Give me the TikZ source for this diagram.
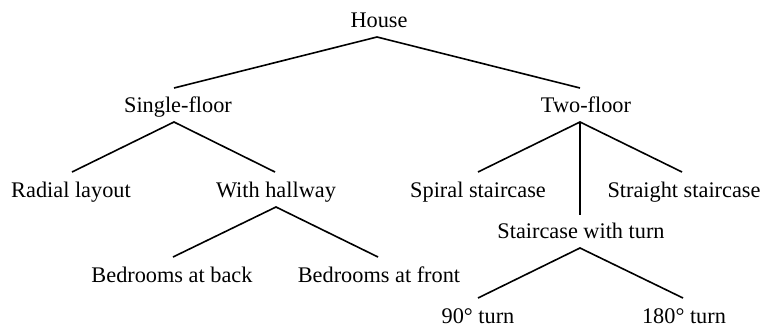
\documentclass[tikz,border=0pt]{standalone}
\usepackage{fontspec}
\setmainfont{Liberation Serif}
\begin{document}
\begin{tikzpicture}[x=1pt,y=-1pt,
  lbl/.style={anchor=base,inner sep=0pt,font=\fontsize{22.3}{26}\selectfont},
  edge/.style={line width=1.6pt,black}]
\useasboundingbox (0,0) rectangle (763,327);
% text nodes
\node[lbl] (house) at (379,27) {House};
\node[lbl] (single) at (178,112) {Single-floor};
\node[lbl] (two) at (586,112) {Two-floor};
\node[lbl] (radial) at (71,197) {Radial layout};
\node[lbl] (hall) at (276,197) {With hallway};
\node[lbl] (spiral) at (478,197) {Spiral staircase};
\node[lbl] (straight) at (684,197) {Straight staircase};
\node[lbl] (turn) at (581,238) {Staircase with turn};
\node[lbl] (back) at (172,282) {Bedrooms at back};
\node[lbl] (front) at (379,282) {Bedrooms at front};
\node[lbl] (t90) at (478,323) {90° turn};
\node[lbl] (t180) at (684,323) {180° turn};
% connector end points
\coordinate (house-b) at (377,37);
\coordinate (single-t) at (174,88);
\coordinate (two-t) at (580,88);
\coordinate (single-b) at (174,122);
\coordinate (radial-t) at (72,172);
\coordinate (hall-t) at (275,172);
\coordinate (two-b) at (580,122);
\coordinate (spiral-t) at (478,172);
\coordinate (straight-t) at (682,172);
\coordinate (turn-t) at (580,215);
\coordinate (hall-b) at (276,207);
\coordinate (back-t) at (173,257);
\coordinate (front-t) at (378,257);
\coordinate (turn-b) at (580,248);
\coordinate (t90-t) at (478,298);
\coordinate (t180-t) at (683,298);
% connectors
\draw[edge] (single-t) -- (house-b) -- (two-t);
\draw[edge] (radial-t) -- (single-b) -- (hall-t);
\draw[edge] (spiral-t) -- (two-b) -- (straight-t);
\draw[edge] (two-b) -- (turn-t);
\draw[edge] (back-t) -- (hall-b) -- (front-t);
\draw[edge] (t90-t) -- (turn-b) -- (t180-t);
\end{tikzpicture}
\end{document}
